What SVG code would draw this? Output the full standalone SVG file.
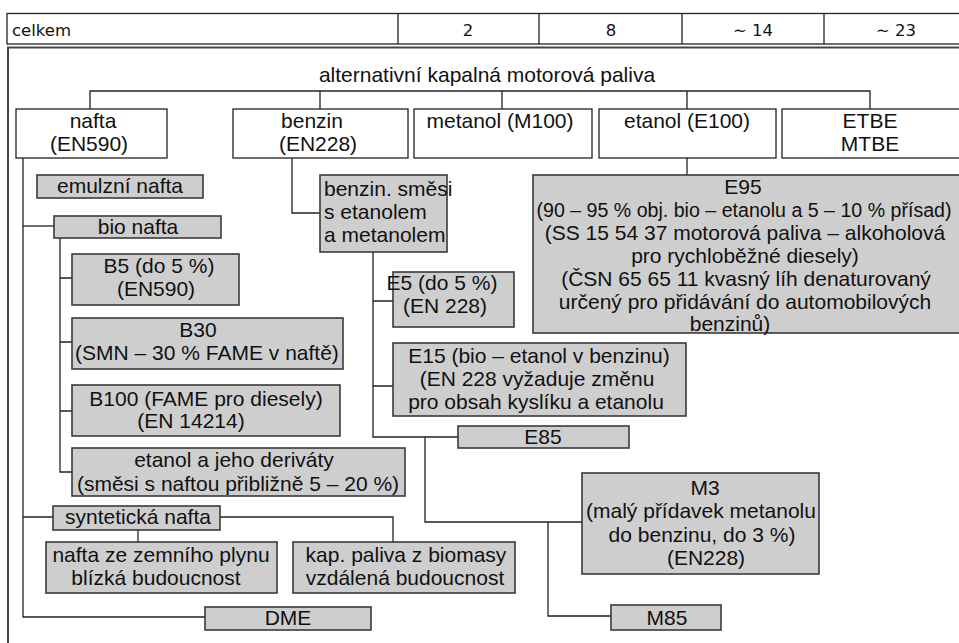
<svg xmlns="http://www.w3.org/2000/svg" width="959" height="643" viewBox="0 0 959 643">
<style>
text{font-family:"Liberation Sans",Arial,sans-serif;font-size:21px;fill:#111;}
.c{text-anchor:middle;}
.hdr{font-family:"DejaVu Sans","Open Sans",sans-serif;font-size:16.5px;fill:#111;}
.w rect{fill:#fff;stroke:#222;stroke-width:1.3;}
.g rect{fill:#cecece;stroke:#3a3a3a;stroke-width:1.6;}
#connectors path{fill:none;stroke:#222;stroke-width:1.3;}
.frame{fill:none;stroke:#222;stroke-width:1.3;}
</style>
<rect width="959" height="643" fill="#fff"/>
<g id="header">
<rect class="frame" x="7" y="13.5" width="970" height="30.5"/>
<line class="frame" x1="398" y1="13.5" x2="398" y2="44"/>
<line class="frame" x1="539" y1="13.5" x2="539" y2="44"/>
<line class="frame" x1="682" y1="13.5" x2="682" y2="44"/>
<line class="frame" x1="824" y1="13.5" x2="824" y2="44"/>
<text class="hdr" x="12" y="36">celkem</text>
<text class="hdr c" x="468" y="36">2</text>
<text class="hdr c" x="611" y="36">8</text>
<text class="hdr c" x="753" y="36">∼ 14</text>
<text class="hdr c" x="896" y="36">∼ 23</text>
</g>
<path d="M8 660 V47.5 H980" fill="none" stroke="#444" stroke-width="2"/>
<text id="title" class="c" x="487" y="82">alternativní kapalná motorová paliva</text>
<g id="connectors">
<path d="M90 109 V91 H870 V109 M320 91 V109 M502 91 V109 M687 91 V109"/>
<path d="M23 158 V617 H205"/>
<path d="M23 226 H54"/>
<path d="M60 238 V472 H72 M60 278 H72 M60 342 H72 M60 411 H72"/>
<path d="M23 517 H53 M220 517 H393 V542 M138 530 V542"/>
<path d="M292 158 V213 H320"/>
<path d="M373 252 V437 H458 M373 301 H393 M373 386 H393"/>
<path d="M425 437 V522 H582 M548 522 V616 H611"/>
<path d="M687 158 V175"/>
</g>
<g id="nafta" class="w"><rect x="16" y="109" width="151" height="49"/><text class="c" x="93" y="128">nafta</text><text class="c" x="89" y="151">(EN590)</text></g>
<g id="benzin" class="w"><rect x="233" y="109" width="175" height="49"/><text class="c" x="312" y="128">benzin</text><text class="c" x="318" y="151">(EN228)</text></g>
<g id="metanol" class="w"><rect x="414" y="109" width="178" height="49"/><text class="c" x="500" y="128">metanol (M100)</text></g>
<g id="etanol" class="w"><rect x="599" y="109" width="177" height="49"/><text class="c" x="687" y="128">etanol (E100)</text></g>
<g id="etbe" class="w"><rect x="782" y="109" width="200" height="49"/><text class="c" x="870" y="128">ETBE</text><text class="c" x="870" y="151">MTBE</text></g>
<g id="emulzni" class="g"><rect x="37" y="175" width="166" height="23"/><text class="c" x="120" y="193">emulzní nafta</text></g>
<g id="bionafta" class="g"><rect x="54" y="216" width="167" height="22"/><text class="c" x="138" y="234">bio nafta</text></g>
<g id="b5" class="g"><rect x="72" y="254" width="167" height="51"/><text class="c" x="159" y="273">B5 (do 5 %)</text><text class="c" x="156" y="296">(EN590)</text></g>
<g id="b30" class="g"><rect x="72" y="318" width="271" height="51"/><text class="c" x="198" y="337">B30</text><text class="c" x="207" y="360">(SMN – 30 % FAME v naftě)</text></g>
<g id="b100" class="g"><rect x="72" y="385" width="268" height="51"/><text class="c" x="206" y="406">B100 (FAME pro diesely)</text><text class="c" x="191" y="428">(EN 14214)</text></g>
<g id="etanolderiv" class="g"><rect x="72" y="448" width="333" height="48"/><text class="c" x="234" y="467">etanol a jeho deriváty</text><text class="c" x="238" y="491">(směsi s naftou přibližně 5 – 20 %)</text></g>
<g id="synteticka" class="g"><rect x="53" y="506" width="167" height="24"/><text class="c" x="138" y="524">syntetická nafta</text></g>
<g id="zemniplyn" class="g"><rect x="46" y="542" width="231" height="51"/><text class="c" x="161" y="562">nafta ze zemního plynu</text><text class="c" x="156" y="585">blízká budoucnost</text></g>
<g id="biomasa" class="g"><rect x="293" y="542" width="222" height="51"/><text class="c" x="406" y="562">kap. paliva z biomasy</text><text class="c" x="405" y="585">vzdálená budoucnost</text></g>
<g id="dme" class="g"><rect x="205" y="607" width="166" height="23"/><text class="c" x="288" y="625">DME</text></g>
<g id="smesi" class="g"><rect x="320" y="175" width="127" height="77"/><text x="324" y="196">benzin. směsi</text><text x="324" y="219">s etanolem</text><text x="324" y="242">a metanolem</text></g>
<g id="e5" class="g"><rect x="393" y="272" width="121" height="55"/><text class="c" x="442" y="290">E5 (do 5 %)</text><text class="c" x="445" y="313">(EN 228)</text></g>
<g id="e15" class="g"><rect x="393" y="343" width="293" height="73"/><text class="c" x="539" y="363">E15 (bio – etanol v benzinu)</text><text class="c" x="537" y="386">(EN 228 vyžaduje změnu</text><text class="c" x="536" y="409">pro obsah kyslíku a etanolu</text></g>
<g id="e85" class="g"><rect x="458" y="426" width="171" height="22"/><text class="c" x="543" y="444">E85</text></g>
<g id="m3" class="g"><rect x="582" y="473" width="237" height="101"/><text class="c" x="705" y="495">M3</text><text class="c" x="701" y="518">(malý přídavek metanolu</text><text class="c" x="702" y="542">do benzinu, do 3 %)</text><text class="c" x="706" y="565">(EN228)</text></g>
<g id="m85" class="g"><rect x="611" y="605" width="110" height="25"/><text class="c" x="667" y="625">M85</text></g>
<g id="e95" class="g"><rect x="533" y="175" width="450" height="158"/><text class="c" x="743" y="194">E95</text><text class="c" x="744" y="217" style="font-size:19.6px">(90 – 95 % obj. bio – etanolu a 5 – 10 % přísad)</text><text class="c" x="745" y="240">(SS 15 54 37 motorová paliva – alkoholová</text><text class="c" x="745" y="263">pro rychloběžné diesely)</text><text class="c" x="746" y="286">(ČSN 65 65 11 kvasný líh denaturovaný</text><text class="c" x="745" y="309">určený pro přidávání do automobilových</text><text class="c" x="730" y="331">benzinů)</text></g>
</svg>
